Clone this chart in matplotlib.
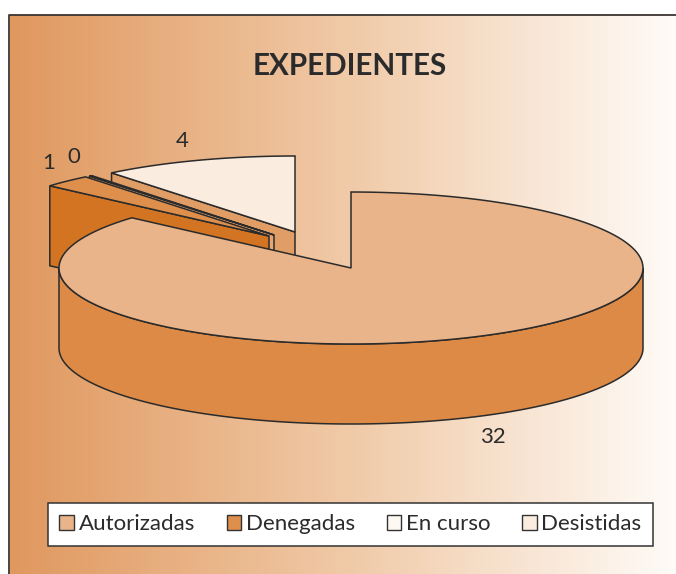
import numpy as np
import matplotlib
matplotlib.use("Agg")
import matplotlib.pyplot as plt
from matplotlib.colors import LinearSegmentedColormap
from matplotlib.patches import Patch, Polygon

plt.rcParams['font.family'] = ['Lato', 'DejaVu Sans']

title = "EXPEDIENTES"
categories = ["Autorizadas", "Denegadas", "En curso", "Desistidas"]
values = [32, 1, 0, 4]

top_colors = ["#E9B48A", "#DF8F4C", "#FDF6EE", "#FAECDF"]
side_colors = ["#DC8A45", "#D27421", "#E5A470", "#E09E66"]
legend_colors = ["#E9B48A", "#DF8F4C", "#FDF8F2", "#FAECDF"]
offsets = [(0, 0), (-82, -32), (-77, -33), (-56, -36)]
label_pos = [(493, 437), (49, 163), (74, 157), (182, 141)]

CX, CY = 351, 268
RX, RY = 292, 76
DEPTH = 80
LINE = "#2b2b2b"


def Point(deg, dx=0, dy=0):
	rad = np.radians(deg)
	return CX + dx + RX * np.sin(rad), CY + dy - RY * np.cos(rad)


def Arc(start, stop, dx=0, dy=0):
	return [Point(d, dx, dy) for d in np.linspace(start, stop, 200)]


def DrawBackSlice(ax, start, stop, off, top_color, side_color, z):
	dx, dy = off
	apex = (CX + dx, CY + dy)
	outer = Point(start, dx, dy)
	wall = [outer, apex, (apex[0], apex[1] + DEPTH), (outer[0], outer[1] + DEPTH)]
	ax.add_patch(Polygon(wall, fc=side_color, ec=LINE, lw=1.1, zorder=z))
	ax.add_patch(Polygon([apex] + Arc(start, stop, dx, dy), fc=top_color, ec=LINE, lw=1.1, zorder=z + 0.1))


def DrawMainSlice(ax, stop, top_color, side_color, z):
	wall = Arc(90, 270) + Arc(270, 90, 0, DEPTH)
	ax.add_patch(Polygon(wall, fc=side_color, ec=LINE, lw=1.1, zorder=z))
	ax.add_patch(Polygon([(CX, CY)] + Arc(0, stop), fc=top_color, ec=LINE, lw=1.1, zorder=z + 0.1))


def main():
	fig = plt.figure(figsize=(6.76, 5.74), dpi=100)
	ax = fig.add_axes([0, 0, 1, 1])
	ax.set_xlim(0, 676)
	ax.set_ylim(574, 0)
	ax.axis("off")

	cmap = LinearSegmentedColormap.from_list("bg", ["#E0985F", "#F0C9A6", "#FFFBF7"])
	ax.imshow(np.linspace(0, 1, 400).reshape(1, -1), cmap=cmap, aspect="auto",
		extent=[10, 676, 574, 15], zorder=0)
	ax.set_xlim(0, 676)
	ax.set_ylim(574, 0)
	ax.plot([9, 9, 676], [574, 15, 15], color="#3a3432", lw=1.3, zorder=1)

	total = sum(values)
	sweeps = [v / total * 360 for v in values]
	edges = np.cumsum([0] + sweeps)

	# back slices first, the big one covers their walls
	for i, z in [(3, 2), (2, 3), (1, 4)]:
		start, stop = edges[i], edges[i + 1]
		if values[i] == 0:
			start, stop = start - 0.3, stop + 0.3
		DrawBackSlice(ax, start, stop, offsets[i], top_colors[i], side_colors[i], z)
	DrawMainSlice(ax, edges[1], top_colors[0], side_colors[0], 5)

	for val, (x, y) in zip(values, label_pos):
		ax.text(x, y, str(val), fontsize=16, color="#2b2b2b", ha="center", va="center", zorder=6)

	ax.text(350, 66, title, fontsize=21.3, fontweight="bold", color="#2b2b2b", ha="center", va="center")

	handles = [Patch(fc=c, ec="#333333", lw=1) for c in legend_colors]
	leg = ax.legend(handles, categories, ncol=4, loc="center", bbox_to_anchor=(350.5 / 676, 1 - 524.5 / 574),
		fontsize=16, frameon=True, fancybox=False, framealpha=1, edgecolor="#333333",
		handlelength=0.65, handleheight=0.65, handletextpad=0.22, columnspacing=1.42,
		borderpad=0.5, labelcolor="#2b2b2b")
	leg.get_frame().set_linewidth(1.1)
	leg.set_zorder(7)

	plt.savefig("out.png", dpi=100)


if __name__ == '__main__':
	main()
